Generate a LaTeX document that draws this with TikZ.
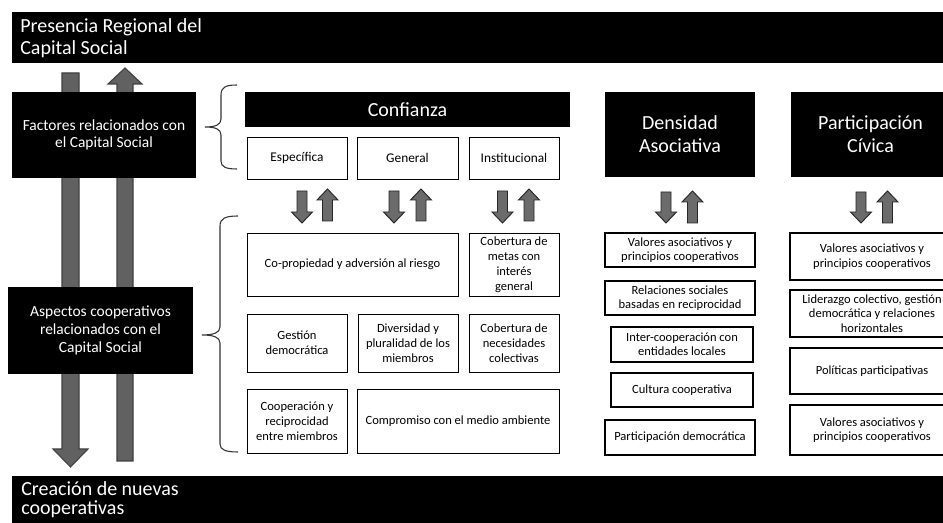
\documentclass[tikz,border=0pt]{standalone}
\usepackage{fontspec}
\setmainfont{Carlito}
\usetikzlibrary{fit}
\tikzset{
  blackbar/.style={fill=black, draw=none, inner sep=0pt},
  bartext/.style={text=white, align=left, inner sep=0pt, font=\fontsize{15}{17}\selectfont},
  sidebox/.style={fill=black, draw=none, inner sep=0pt, text=white, align=center, font=\fontsize{11.6}{13.2}\selectfont},
  headbox/.style={fill=black, draw=none, inner sep=0pt, text=white, align=center, font=\fontsize{15}{17.25}\selectfont},
  subbox/.style={fill=white, draw=black, line width=0.7pt, inner sep=0pt, align=center, font=\fontsize{10}{11.25}\selectfont},
  wbox/.style={fill=white, draw=black, line width=0.7pt, inner sep=0pt, align=center, font=\fontsize{9.4}{11.25}\selectfont},
  rbox/.style={fill=white, draw=black, line width=0.9pt, inner sep=0pt, align=center, font=\fontsize{9.4}{10.8}\selectfont},
  bigarrow/.style={fill=black!62, draw=black!75, line width=0.8pt, line join=miter},
  smallarrow/.style={fill=black!58, draw=black!85, line width=0.7pt, line join=miter},
  bracestyle/.style={draw=black!80, line width=0.8pt}
}
\newcommand\myDown[7]{% style, cx, ytop, ytip, half shaft, half head, head length
  \draw[#1] ({#2-#5},#3) -- ({#2+#5},#3) -- ({#2+#5},{#4-#7}) -- ({#2+#6},{#4-#7}) -- (#2,#4)
    -- ({#2-#6},{#4-#7}) -- ({#2-#5},{#4-#7}) -- cycle;}
\newcommand\myUp[7]{% style, cx, ybottom, ytip, half shaft, half head, head length
  \draw[#1] ({#2-#5},#3) -- ({#2+#5},#3) -- ({#2+#5},{#4+#7}) -- ({#2+#6},{#4+#7}) -- (#2,#4)
    -- ({#2-#6},{#4+#7}) -- ({#2-#5},{#4+#7}) -- cycle;}
\begin{document}
\begin{tikzpicture}[x=0.75pt, y=-0.75pt]
\useasboundingbox (0,0) rectangle (943,523);
\clip (0,0) rectangle (943,523);
\fill[white] (0,0) rectangle (943,523);

% big vertical arrows (behind the side boxes)
\myDown{bigarrow}{70.5}{73}{467}{8.5}{17.5}{18}
\myUp{bigarrow}{125}{461}{68}{8}{17}{16}

% top and bottom bars
\node[blackbar, fit={(12,12) (960,63)}] (top) {};
\node[bartext, anchor=base west] (toptext) at (20,32.5) {Presencia Regional del};
\node[bartext, anchor=base west] (toptext2) at (20,55) {Capital Social};
\node[blackbar, fit={(12,476) (960,540)}] (bottom) {};
\node[bartext, anchor=base west] (bottext) at (21,496) {Creación de nuevas};
\node[bartext, anchor=base west] (bottext2) at (21,515) {cooperativas};

% side boxes
\node[sidebox, fit={(12,92) (196,178)}] (factores) {};
\node[sidebox] at (factores.center) {Factores relacionados con\\el Capital Social};
\node[sidebox, fit={(8,287) (193,374)}] (aspectos) {};
\node[sidebox] at (aspectos.center) {Aspectos cooperativos\\relacionados con el\\Capital Social};

% braces
\draw[bracestyle] (237,85) .. controls (226,85) and (221,87) .. (221,95) -- (221,119)
  .. controls (221,125) and (215,127) .. (205,127)
  .. controls (215,127) and (221,129) .. (221,135) -- (221,161)
  .. controls (221,167) and (226,169) .. (237,169);
\draw[bracestyle] (238,216) .. controls (226,216) and (220,218) .. (220,226) -- (220,327)
  .. controls (220,333) and (213,335) .. (202,335)
  .. controls (213,335) and (220,337) .. (220,343) -- (220,444)
  .. controls (220,450) and (226,452) .. (238,452);

% headers
\node[headbox, fit={(245,92) (570,127)}] (confianza) {};
\node[headbox] at (confianza.center) {Confianza};
\node[headbox, fit={(605,92) (755,177)}] (densidad) {};
\node[headbox] at (densidad.center) {Densidad\\Asociativa};
\node[headbox, fit={(791,92) (950,177)}] (participacion) {};
\node[headbox] at (participacion.center) {Participación\\Cívica};

% confianza sub boxes
\node[subbox, fit={(247,137) (347,179)}] (especifica) {};
\node at (especifica.center) [font=\fontsize{10}{11.25}\selectfont] {Específica};
\node[subbox, fit={(357,137) (458,179)}] (general) {};
\node at (general.center) [font=\fontsize{10}{11.25}\selectfont] {General};
\node[subbox, fit={(469,137) (559,179)}] (institucional) {};
\node at (institucional.center) [font=\fontsize{10}{11.25}\selectfont] {Institucional};

% small arrow pairs
\myDown{smallarrow}{302}{191}{223}{5}{10.5}{11}
\myUp{smallarrow}{327.5}{221}{189}{5}{10.5}{11}
\myDown{smallarrow}{394}{191}{223}{5}{10.5}{11}
\myUp{smallarrow}{421}{221}{189}{5}{10.5}{11}
\myDown{smallarrow}{502.5}{191}{223}{5}{10.5}{11}
\myUp{smallarrow}{529}{221}{189}{5}{10.5}{11}
\myDown{smallarrow}{666}{192}{223}{5}{10.5}{11}
\myUp{smallarrow}{692.5}{223}{191}{5}{10.5}{11}
\myDown{smallarrow}{861}{192}{223}{5}{10.5}{11}
\myUp{smallarrow}{887.5}{223}{191}{5}{10.5}{11}

% cooperative aspects grid
\node[wbox, fit={(247,233) (458,296)}] (copropiedad) {};
\node[wbox, draw=none, fill=none] at (copropiedad.center) {Co-propiedad y adversión al riesgo};
\node[wbox, fit={(469,233) (559,296)}] (metas) {};
\node[wbox, draw=none, fill=none] at (metas.center) {Cobertura de\\metas con\\interés\\general};
\node[wbox, fit={(247,314) (347,372)}] (gestion) {};
\node[wbox, draw=none, fill=none] at (gestion.center) {Gestión\\democrática};
\node[wbox, fit={(358,314) (458,372)}] (diversidad) {};
\node[wbox, draw=none, fill=none] at (diversidad.center) {Diversidad y\\pluralidad de los\\miembros};
\node[wbox, fit={(469,314) (559,372)}] (necesidades) {};
\node[wbox, draw=none, fill=none] at (necesidades.center) {Cobertura de\\necesidades\\colectivas};
\node[wbox, fit={(247,389) (347,453)}] (cooperacion) {};
\node[wbox, draw=none, fill=none] at (cooperacion.center) {Cooperación y\\reciprocidad\\entre miembros};
\node[wbox, fit={(357,389) (559,453)}] (compromiso) {};
\node[wbox, draw=none, fill=none] at (compromiso.center) {Compromiso con el medio ambiente};

% densidad column
\node[rbox, fit={(605,233) (755,267)}] (d1) {};
\node[rbox, draw=none, fill=none] at (d1.center) {Valores asociativos y\\principios cooperativos};
\node[rbox, fit={(605,281) (755,315)}] (d2) {};
\node[rbox, draw=none, fill=none] at (d2.center) {Relaciones sociales\\basadas en reciprocidad};
\node[rbox, fit={(611,327) (753,362)}] (d3) {};
\node[rbox, draw=none, fill=none] at (d3.center) {Inter-cooperación con\\entidades locales};
\node[rbox, fit={(611,373) (753,407)}] (d4) {};
\node[rbox, draw=none, fill=none] at (d4.center) {Cultura cooperativa};
\node[rbox, fit={(605,420) (755,455)}] (d5) {};
\node[rbox, draw=none, fill=none] at (d5.center) {Participación democrática};

% participacion column
\node[rbox, fit={(790,233) (954,280)}] (p1) {};
\node[rbox, draw=none, fill=none] at (p1.center) {Valores asociativos y\\principios cooperativos};
\node[rbox, fit={(790,290) (954,337)}] (p2) {};
\node[rbox, draw=none, fill=none] at (p2.center) {Liderazgo colectivo, gestión\\democrática y relaciones\\horizontales};
\node[rbox, fit={(790,348) (954,394)}] (p3) {};
\node[rbox, draw=none, fill=none] at (p3.center) {Políticas participativas};
\node[rbox, fit={(790,405) (954,455)}] (p4) {};
\node[rbox, draw=none, fill=none] at (p4.center) {Valores asociativos y\\principios cooperativos};
\end{tikzpicture}
\end{document}
